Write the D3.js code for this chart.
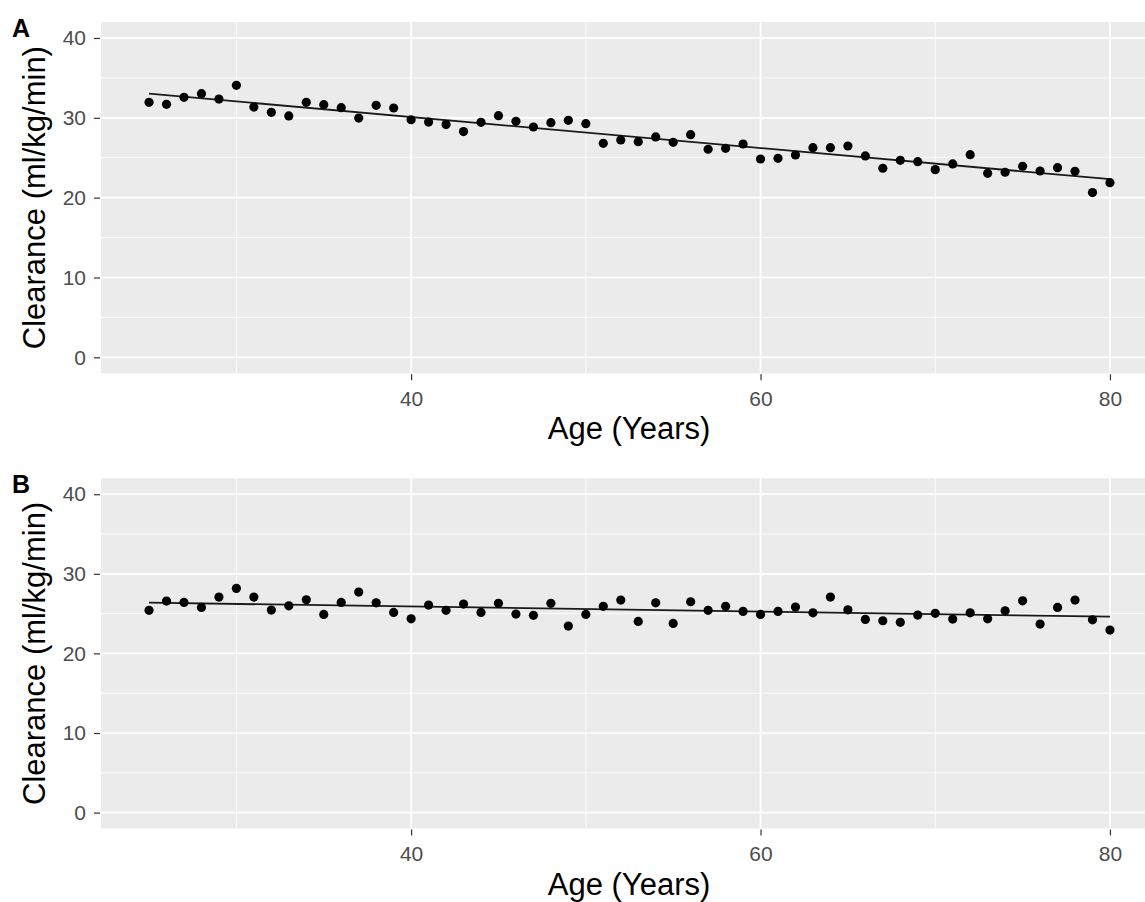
<!DOCTYPE html>
<html>
<head>
<meta charset="utf-8">
<script src="https://cdn.jsdelivr.net/npm/d3@7"></script>
<style>
  html, body { margin: 0; padding: 0; background: #ffffff; }
  svg { display: block; }
  text { font-family: "Liberation Sans", Arial, Helvetica, sans-serif; }
</style>
</head>
<body>
<svg id="chart" width="1145" height="902"></svg>
<script>
// Subject age in years (same ages in both panels)
const ages = [25, 26, 27, 28, 29, 30, 31, 32, 33, 34, 35, 36, 37, 38, 39, 40, 41, 42, 43, 44,
              45, 46, 47, 48, 49, 50, 51, 52, 53, 54, 55, 56, 57, 58, 59, 60, 61, 62, 63, 64,
              65, 66, 67, 68, 69, 70, 71, 72, 73, 74, 75, 76, 77, 78, 79, 80];

// Panel A clearance (ml/kg/min)
const clearanceA = [31.94, 31.69, 32.57, 33.02, 32.35, 34.07, 31.35, 30.69, 30.23, 31.94,
                    31.64, 31.27, 29.97, 31.56, 31.23, 29.76, 29.47, 29.15, 28.28, 29.44,
                    30.27, 29.56, 28.85, 29.39, 29.68, 29.26, 26.81, 27.22, 27.01, 27.60,
                    26.93, 27.89, 26.06, 26.18, 26.72, 24.84, 24.93, 25.34, 26.26, 26.26,
                    26.47, 25.22, 23.68, 24.68, 24.51, 23.51, 24.22, 25.38, 23.05, 23.18,
                    23.93, 23.34, 23.76, 23.30, 20.63, 21.88];

// Panel B clearance (ml/kg/min)
const clearanceB = [25.41, 26.57, 26.41, 25.78, 27.08, 28.17, 27.08, 25.44, 25.98, 26.74,
                    24.90, 26.41, 27.71, 26.36, 25.15, 24.35, 26.07, 25.41, 26.20, 25.15,
                    26.29, 24.94, 24.78, 26.29, 23.43, 24.90, 25.91, 26.70, 24.02, 26.36,
                    23.77, 26.49, 25.41, 25.91, 25.28, 24.90, 25.28, 25.82, 25.10, 27.08,
                    25.48, 24.27, 24.10, 23.90, 24.81, 25.03, 24.31, 25.10, 24.35, 25.36,
                    26.61, 23.68, 25.78, 26.70, 24.22, 22.93];

// Axis breaks
const xMajor = [40, 60, 80];
const xMinor = [30, 50, 70];
const yMajor = [0, 10, 20, 30, 40];
const yMinor = [5, 15, 25, 35];

const panelLabels = ["A", "B"];
const xTitle = "Age (Years)";
const yTitle = "Clearance (ml/kg/min)";

const svg = d3.select("#chart");

const plotLeft = 101;
const plotRight = 1158;

const x = d3.scaleLinear().domain([22.25, 82.75]).range([plotLeft, plotRight]);

// Ordinary least squares fit
function linearFit(xs, ys) {
  const mx = d3.mean(xs), my = d3.mean(ys);
  let sxy = 0, sxx = 0;
  xs.forEach((v, i) => { sxy += (v - mx) * (ys[i] - my); sxx += (v - mx) * (v - mx); });
  const slope = sxy / sxx;
  return { slope, intercept: my - slope * mx };
}

function drawPanel(values, top, bottom, label) {
  const y = d3.scaleLinear().domain([-2, 42]).range([bottom, top]);
  const g = svg.append("g");

  // panel background
  g.append("rect")
    .attr("x", plotLeft).attr("y", top)
    .attr("width", plotRight - plotLeft).attr("height", bottom - top)
    .attr("fill", "#ebebeb");

  // minor grid
  g.selectAll(".ymin").data(yMinor).enter().append("line")
    .attr("x1", plotLeft).attr("x2", plotRight)
    .attr("y1", d => y(d)).attr("y2", d => y(d))
    .attr("stroke", "#ffffff").attr("stroke-width", 0.8);
  g.selectAll(".xmin").data(xMinor).enter().append("line")
    .attr("y1", top).attr("y2", bottom)
    .attr("x1", d => x(d)).attr("x2", d => x(d))
    .attr("stroke", "#ffffff").attr("stroke-width", 0.8);

  // major grid
  g.selectAll(".ymaj").data(yMajor).enter().append("line")
    .attr("x1", plotLeft).attr("x2", plotRight)
    .attr("y1", d => y(d)).attr("y2", d => y(d))
    .attr("stroke", "#ffffff").attr("stroke-width", 1.7);
  g.selectAll(".xmaj").data(xMajor).enter().append("line")
    .attr("y1", top).attr("y2", bottom)
    .attr("x1", d => x(d)).attr("x2", d => x(d))
    .attr("stroke", "#ffffff").attr("stroke-width", 1.7);

  // axes
  const yAxis = d3.axisLeft(y).tickValues(yMajor).tickSize(6).tickPadding(8);
  const yg = g.append("g").attr("transform", `translate(${plotLeft - 1},0)`).call(yAxis);
  yg.select(".domain").remove();
  yg.selectAll(".tick line").attr("stroke", "#333333").attr("stroke-width", 1.2);
  yg.selectAll(".tick text").attr("fill", "#4d4d4d").style("font-size", "21px");

  const xAxis = d3.axisBottom(x).tickValues(xMajor).tickSize(6).tickPadding(11);
  const xg = g.append("g").attr("transform", `translate(0,${bottom + 1})`).call(xAxis);
  xg.select(".domain").remove();
  xg.selectAll(".tick line").attr("stroke", "#333333").attr("stroke-width", 1.2);
  xg.selectAll(".tick text").attr("fill", "#4d4d4d").style("font-size", "21px");

  // fitted line
  const fit = linearFit(ages, values);
  const x0 = d3.min(ages), x1 = d3.max(ages);
  g.append("line")
    .attr("x1", x(x0)).attr("y1", y(fit.intercept + fit.slope * x0))
    .attr("x2", x(x1)).attr("y2", y(fit.intercept + fit.slope * x1))
    .attr("stroke", "#1a1a1a").attr("stroke-width", 1.8);

  // points
  g.selectAll(".pt").data(ages).enter().append("circle")
    .attr("cx", d => x(d))
    .attr("cy", (d, i) => y(values[i]))
    .attr("r", 4.6)
    .attr("fill", "#000000");

  // titles
  g.append("text")
    .attr("x", 629)
    .attr("y", bottom + 66)
    .attr("text-anchor", "middle")
    .style("font-size", "31px")
    .attr("fill", "#000000")
    .text(xTitle);

  g.append("text")
    .attr("transform", `translate(45,${(top + bottom) / 2}) rotate(-90)`)
    .attr("text-anchor", "middle")
    .style("font-size", "31px")
    .attr("fill", "#000000")
    .text(yTitle);

  g.append("text")
    .attr("x", 12).attr("y", top + 15)
    .style("font-size", "25px").style("font-weight", "bold")
    .attr("fill", "#000000")
    .text(label);
}

drawPanel(clearanceA, 22, 373.3, panelLabels[0]);
drawPanel(clearanceB, 478.3, 828.5, panelLabels[1]);
</script>
</body>
</html>
